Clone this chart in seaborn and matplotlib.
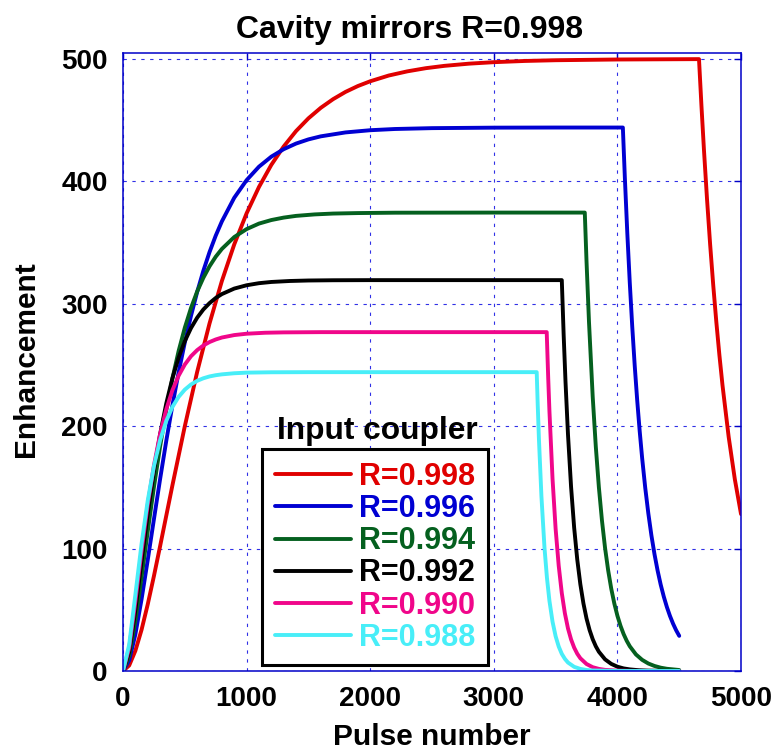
import matplotlib
matplotlib.use("Agg")
import matplotlib.pyplot as plt
import seaborn as sns

# ---------------- data ----------------
coupler_labels = ["R=0.998", "R=0.996", "R=0.994", "R=0.992", "R=0.990", "R=0.988"]
line_colors = ["#e00000", "#0000d2", "#05601f", "#000000", "#f0068a", "#48eef8"]

pulse_red = [0, 50, 100, 150, 200, 250, 300, 400, 500, 600, 700, 800, 900, 1000, 1100, 1200, 1300, 1400,
             1500, 1600, 1700, 1800, 1900, 2000, 2150, 2300, 2450, 2600, 2800, 3000, 3250, 3500, 4000,
             4660, 4680, 4700, 4725, 4750, 4775, 4800, 4825, 4850, 4900, 4950, 5000]
enh_red = [0, 4.5, 16.5, 33.6, 54.4, 77.5, 101.9, 151.8, 200.0, 244.4, 284.0, 318.7, 348.6, 374.0, 395.5,
           413.6, 428.6, 441.2, 451.6, 460.2, 467.3, 473.2, 478.0, 481.9, 486.6, 490.0, 492.6, 494.5, 496.3,
           497.5, 498.5, 499.1, 499.7, 500.0, 461.5, 426.0, 385.4, 348.7, 315.5, 285.4, 258.2, 233.6, 191.3,
           156.6, 128.2]

pulse_blue = [0, 50, 100, 150, 200, 250, 300, 350, 400, 450, 500, 550, 600, 650, 700, 750, 800, 900, 1000,
              1100, 1200, 1300, 1400, 1500, 1600, 1800, 2000, 2200, 2500, 3000, 3500, 4044, 4060, 4080, 4100,
              4120, 4140, 4160, 4180, 4200, 4225, 4250, 4275, 4300, 4325, 4350, 4375, 4400, 4425, 4450,
              4475, 4500]
enh_blue = [0, 8.6, 29.9, 58.5, 90.6, 123.9, 156.7, 188.0, 217.2, 244.0, 268.4, 290.2, 309.7, 327.0, 342.3,
            355.7, 367.4, 386.7, 401.1, 412.1, 420.3, 426.4, 431.0, 434.4, 436.9, 440.1, 441.9, 442.9, 443.6,
            444.0, 444.1, 444.1, 403.4, 357.7, 317.2, 281.3, 249.4, 221.2, 196.2, 174.0, 149.7, 128.8, 110.8,
            95.4, 82.1, 70.6, 60.8, 52.3, 45.0, 38.7, 33.3, 28.7]

pulse_green = [0, 50, 100, 150, 200, 250, 300, 350, 400, 450, 500, 550, 600, 650, 700, 750, 800, 900, 1000,
               1100, 1200, 1300, 1400, 1550, 1700, 1900, 2200, 3000, 3736, 3750, 3770, 3800, 3825, 3850,
               3875, 3900, 3925, 3950, 3975, 4000, 4025, 4050, 4075, 4100, 4150, 4200, 4250, 4300, 4350,
               4400, 4500]
enh_green = [0, 12.4, 40.9, 76.5, 114.0, 150.1, 183.4, 213.1, 239.1, 261.5, 280.5, 296.6, 310.1, 321.3,
             330.7, 338.5, 344.9, 354.6, 361.1, 365.6, 368.5, 370.5, 371.9, 373.1, 373.8, 374.2, 374.5,
             374.6, 374.6, 334.8, 285.2, 224.2, 183.5, 150.1, 122.9, 100.5, 82.3, 67.3, 55.1, 45.1, 36.9,
             30.2, 24.7, 20.2, 13.5, 9.1, 6.1, 4.1, 2.7, 1.8, 0.8]

pulse_black = [0, 50, 100, 150, 200, 250, 300, 350, 400, 450, 500, 550, 600, 650, 700, 750, 800, 900, 1000,
               1100, 1200, 1350, 1500, 1700, 2000, 3550, 3565, 3580, 3600, 3625, 3650, 3675, 3700, 3725,
               3750, 3775, 3800, 3825, 3850, 3900, 3950, 4000, 4050, 4100, 4175, 4250, 4500]
enh_black = [0, 15.7, 49.7, 89.3, 128.1, 163.2, 193.4, 218.6, 239.3, 256.1, 269.5, 280.2, 288.7, 295.4,
             300.6, 304.8, 308.0, 312.5, 315.2, 316.9, 317.9, 318.7, 319.1, 319.3, 319.4, 319.4, 274.8,
             236.4, 193.4, 150.5, 117.1, 91.1, 70.9, 55.2, 42.9, 33.4, 26.0, 20.2, 15.7, 9.5, 5.8, 3.5,
             2.1, 1.3, 0.6, 0.3, 0.0]

pulse_pink = [0, 50, 100, 150, 200, 250, 300, 350, 400, 450, 500, 550, 600, 650, 700, 750, 800, 900, 1000,
              1150, 1300, 1600, 2000, 3428, 3440, 3450, 3475, 3500, 3525, 3550, 3575, 3600, 3625, 3650,
              3675, 3700, 3750, 3800, 3850, 3900, 4000, 4100, 4500]
enh_pink = [0, 18.7, 56.7, 98.1, 135.9, 167.8, 193.6, 213.8, 229.5, 241.3, 250.4, 257.2, 262.2, 266.0,
            268.8, 270.9, 272.5, 274.5, 275.6, 276.4, 276.7, 276.9, 276.9, 276.9, 239.6, 212.4, 157.1,
            116.2, 86.0, 63.6, 47.1, 34.8, 25.8, 19.1, 14.1, 10.4, 5.7, 3.1, 1.7, 0.9, 0.3, 0.1, 0.0]

pulse_cyan = [0, 50, 100, 150, 200, 250, 300, 350, 400, 450, 500, 550, 600, 650, 700, 750, 800, 900, 1000,
              1200, 1500, 3347, 3355, 3365, 3385, 3410, 3430, 3450, 3475, 3500, 3525, 3550, 3575, 3600,
              3650, 3700, 3750, 3800, 4000, 4500]
enh_cyan = [0, 21.5, 62.3, 103.8, 139.2, 167.3, 188.6, 204.3, 215.8, 224.0, 229.9, 234.1, 237.1, 239.2,
            240.7, 241.7, 242.4, 243.3, 243.8, 244.1, 244.2, 244.2, 218.2, 189.6, 143.1, 100.6, 76.0, 57.3,
            40.3, 28.4, 20.0, 14.0, 9.9, 6.9, 3.4, 1.7, 0.8, 0.4, 0.0, 0.0]

x_ticks = [0, 1000, 2000, 3000, 4000, 5000]
y_ticks = [0, 100, 200, 300, 400, 500]

series = [(pulse_red, enh_red), (pulse_blue, enh_blue), (pulse_green, enh_green),
          (pulse_black, enh_black), (pulse_pink, enh_pink), (pulse_cyan, enh_cyan)]

# ---------------- style ----------------
sns.set_style("white")
plt.rcParams["font.family"] = ["Liberation Sans", "DejaVu Sans"]
plt.rcParams["font.weight"] = "bold"
plt.rcParams["axes.labelweight"] = "bold"
plt.rcParams["axes.titleweight"] = "bold"
plt.rcParams["text.color"] = "black"
plt.rcParams["axes.labelcolor"] = "black"

fig = plt.figure(figsize=(7.77, 7.54), dpi=100)
ax = fig.add_axes([0.1583, 0.1101, 0.7954, 0.8196])

handles = []
for (xs, ys), col, lab in zip(series, line_colors, coupler_labels):
    sns.lineplot(x=xs, y=ys, color=col, linewidth=2.8, ax=ax, label=lab, sort=False, estimator=None)
    ln = ax.lines[-1]
    ln.set_solid_joinstyle("round")
    handles.append(ln)

ax.set_xlim(0, 5000)
ax.set_ylim(0, 505)
ax.set_xticks(x_ticks)
ax.set_yticks(y_ticks)
ax.set_xticklabels([str(v) for v in x_ticks])
ax.set_yticklabels([str(v) for v in y_ticks])

axis_blue = "#0000c8"
ax.grid(True, color="#3030e6", linestyle=(0, (3, 5)), linewidth=0.8)
for sp in ax.spines.values():
    sp.set_color(axis_blue)
    sp.set_linewidth(1.1)
    sp.set_visible(True)
ax.tick_params(direction="in", length=5, width=1, color=axis_blue, top=True, right=True,
               labelsize=20, pad=11, labelcolor="black")

ax.set_xlabel("Pulse number", fontsize=21.5, fontweight="bold", color="black")
ax.set_ylabel("Enhancement", fontsize=21.5, fontweight="bold", color="black")
ax.xaxis.set_label_coords(0.5, -0.084)
ax.yaxis.set_label_coords(-0.135, 0.504)

ax.set_title("Cavity mirrors R=0.998", fontsize=23, fontweight="bold", x=0.463, pad=10.8,
             color="black")

leg = ax.legend(handles=handles, labels=coupler_labels, loc="upper left",
                bbox_to_anchor=(0.225, 0.359), frameon=True, fancybox=False,
                edgecolor="black", framealpha=1, facecolor="white",
                prop={"size": 22, "weight": "bold"}, handlelength=2.5, handletextpad=0.25,
                labelspacing=0.07, borderpad=0.42, borderaxespad=0)
leg.get_frame().set_linewidth(2.2)
for txt, col in zip(leg.get_texts(), line_colors):
    txt.set_color(col)

ax.text(0.411, 0.375, "Input coupler", transform=ax.transAxes, ha="center", va="baseline",
        fontsize=22.8, fontweight="bold", color="black")

fig.savefig("out.png", dpi=100)
